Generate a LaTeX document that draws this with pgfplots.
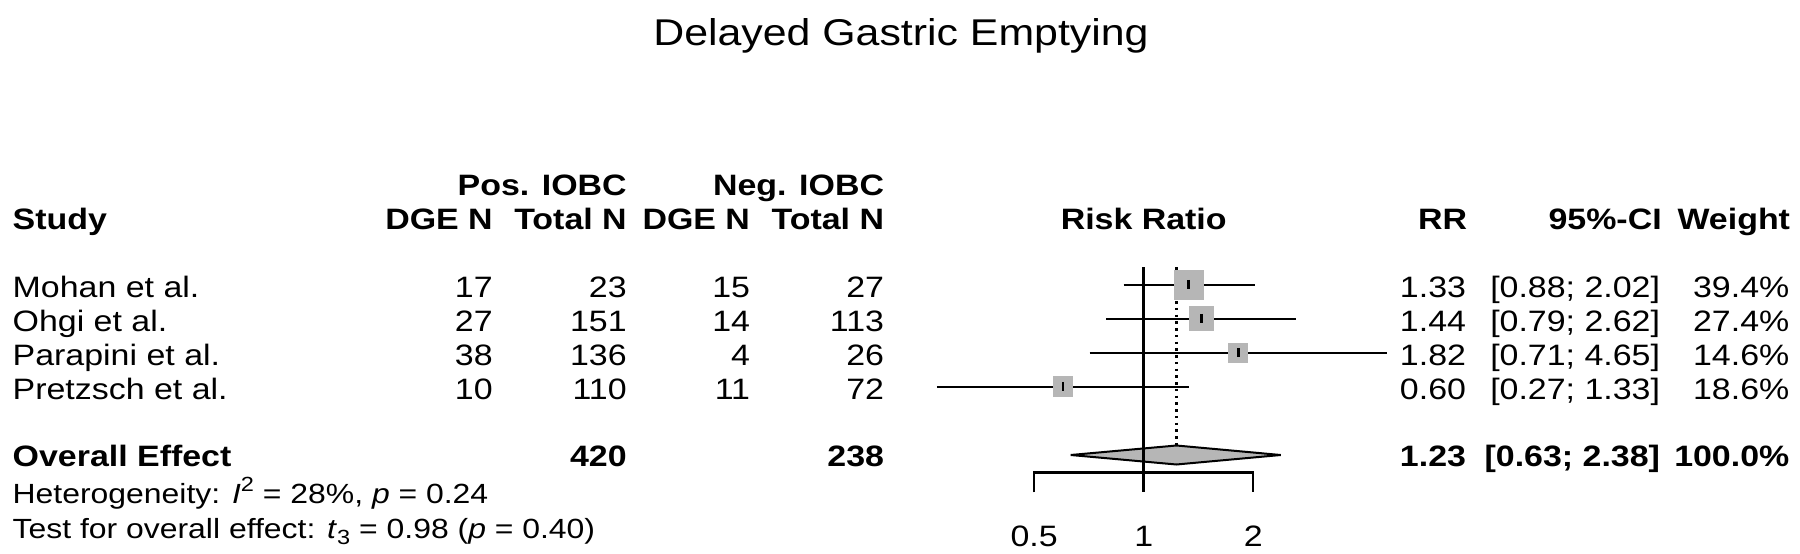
\documentclass[border=0pt]{standalone}
\usepackage{pgfplots}
\pgfplotsset{compat=1.18}
\usepackage{pgfplotstable}
\usepackage{fontspec}
\setmainfont{Liberation Sans}[FakeStretch=1.15]
\definecolor{sqgray}{RGB}{182,182,182}
\newcommand\bodyfont{\fontsize{11.8bp}{14bp}\selectfont}
\newcommand\hetfont{\fontsize{11.1bp}{13bp}\selectfont}
\newcommand\scrfont{\fontsize{8.2bp}{9bp}\selectfont}
\newcommand\titlefont{\fontsize{14.9bp}{17bp}\selectfont}
\tikzset{tx/.style={inner sep=0pt, outer sep=0pt, font=\bodyfont}}

\pgfplotstableread{
est  lo   hi   y     h
1.33 0.88 2.02 284.7 5.82
1.44 0.79 2.62 318.7 4.88
1.82 0.71 4.65 352.7 3.80
0.60 0.27 1.33 386.7 4.00
}\studies

\begin{document}
\begin{tikzpicture}
\path[use as bounding box] (0,0) rectangle (720bp,221.6bp);
% ---------- text canvas (pixel coordinates) ----------
\begin{axis}[at={(0,0)}, anchor=south west, width=720bp, height=221.6bp,
  scale only axis, hide axis, clip=false,
  xmin=0, xmax=1800, ymin=0, ymax=554, y dir=reverse]
\node[tx, anchor=base, font=\titlefont] at (axis cs:901,46) {Delayed Gastric Emptying};
% headers
\node[tx, anchor=base east] at (axis cs:626.7,195.7) {\textbf{Pos. IOBC}};
\node[tx, anchor=base east] at (axis cs:884,195.7) {\textbf{Neg. IOBC}};
\node[tx, anchor=base west] at (axis cs:12.7,230) {\textbf{Study}};
\node[tx, anchor=base east] at (axis cs:492.7,230) {\textbf{DGE N}};
\node[tx, anchor=base east] at (axis cs:626.7,230) {\textbf{Total N}};
\node[tx, anchor=base east] at (axis cs:750,230) {\textbf{DGE N}};
\node[tx, anchor=base east] at (axis cs:884,230) {\textbf{Total N}};
\node[tx, anchor=base] at (axis cs:1143.7,230) {\textbf{Risk Ratio}};
\node[tx, anchor=base east] at (axis cs:1467,230) {\textbf{RR}};
\node[tx, anchor=base east] at (axis cs:1661.7,230) {\textbf{95\%-CI}};
\node[tx, anchor=base east] at (axis cs:1790,230) {\textbf{Weight}};
% rows
\node[tx, anchor=base west] at (axis cs:12.7,297.7) {Mohan et al.};
\node[tx, anchor=base east] at (axis cs:492.7,297.7) {17};
\node[tx, anchor=base east] at (axis cs:626.7,297.7) {23};
\node[tx, anchor=base east] at (axis cs:750,297.7) {15};
\node[tx, anchor=base east] at (axis cs:884,297.7) {27};
\node[tx, anchor=base east] at (axis cs:1466,297.7) {1.33};
\node[tx, anchor=base east] at (axis cs:1660,297.7) {[0.88; 2.02]};
\node[tx, anchor=base east] at (axis cs:1789.3,297.7) {39.4\%};
\node[tx, anchor=base west] at (axis cs:12.7,331.6) {Ohgi et al.};
\node[tx, anchor=base east] at (axis cs:492.7,331.6) {27};
\node[tx, anchor=base east] at (axis cs:626.7,331.6) {151};
\node[tx, anchor=base east] at (axis cs:750,331.6) {14};
\node[tx, anchor=base east] at (axis cs:884,331.6) {113};
\node[tx, anchor=base east] at (axis cs:1466,331.6) {1.44};
\node[tx, anchor=base east] at (axis cs:1660,331.6) {[0.79; 2.62]};
\node[tx, anchor=base east] at (axis cs:1789.3,331.6) {27.4\%};
\node[tx, anchor=base west] at (axis cs:12.7,365.5) {Parapini et al.};
\node[tx, anchor=base east] at (axis cs:492.7,365.5) {38};
\node[tx, anchor=base east] at (axis cs:626.7,365.5) {136};
\node[tx, anchor=base east] at (axis cs:750,365.5) {4};
\node[tx, anchor=base east] at (axis cs:884,365.5) {26};
\node[tx, anchor=base east] at (axis cs:1466,365.5) {1.82};
\node[tx, anchor=base east] at (axis cs:1660,365.5) {[0.71; 4.65]};
\node[tx, anchor=base east] at (axis cs:1789.3,365.5) {14.6\%};
\node[tx, anchor=base west] at (axis cs:12.7,399.4) {Pretzsch et al.};
\node[tx, anchor=base east] at (axis cs:492.7,399.4) {10};
\node[tx, anchor=base east] at (axis cs:626.7,399.4) {110};
\node[tx, anchor=base east] at (axis cs:750,399.4) {11};
\node[tx, anchor=base east] at (axis cs:884,399.4) {72};
\node[tx, anchor=base east] at (axis cs:1466,399.4) {0.60};
\node[tx, anchor=base east] at (axis cs:1660,399.4) {[0.27; 1.33]};
\node[tx, anchor=base east] at (axis cs:1789.3,399.4) {18.6\%};
% overall
\node[tx, anchor=base west] at (axis cs:12.7,466.7) {\textbf{Overall Effect}};
\node[tx, anchor=base east] at (axis cs:626.7,466.7) {\textbf{420}};
\node[tx, anchor=base east] at (axis cs:884,466.7) {\textbf{238}};
\node[tx, anchor=base east] at (axis cs:1466,466.7) {\textbf{1.23}};
\node[tx, anchor=base east] at (axis cs:1660,466.7) {\textbf{[0.63; 2.38]}};
\node[tx, anchor=base east] at (axis cs:1789.3,466.7) {\textbf{100.0\%}};
\node[tx, anchor=base west, font=\hetfont] at (axis cs:12.7,503.3) {Heterogeneity: \textit{I}\raisebox{0.8ex}{\scrfont 2} = 28\%, \textit{p} = 0.24};
\node[tx, anchor=base west, font=\hetfont] at (axis cs:12.7,538.3) {Test for overall effect: \textit{t}\raisebox{-0.45ex}{\scrfont 3} = 0.98 (\textit{p} = 0.40)};
\end{axis}
% ---------- forest plot (log axis, same box) ----------
\begin{axis}[at={(0,0)}, anchor=south west, width=720bp, height=221.6bp,
  scale only axis, hide axis, clip=false,
  xmode=log, xmin=7.1755e-4, xmax=63.716, ymin=0, ymax=554, y dir=reverse]
% random effects estimate (dotted)
\addplot[black, line width=1bp, dash pattern=on 1bp off 1.7bp] coordinates {(1.23,267.3) (1.23,445.5)};
% squares
\addplot[scatter, only marks, mark=square*,
  scatter/use mapped color={draw=sqgray, fill=sqgray},
  mark options={line width=0pt},
  visualization depends on={\thisrow{h} \as \msize},
  scatter/@pre marker code/.append style={/tikz/mark size=\msize}]
  table[x=est, y=y] {\studies};
% confidence intervals
\addplot[black, line width=0.8bp] coordinates {(0.88,284.7) (2.02,284.7)};
\addplot[black, line width=0.8bp] coordinates {(0.79,318.7) (2.62,318.7)};
\addplot[black, line width=0.8bp] coordinates {(0.71,352.7) (4.65,352.7)};
\addplot[black, line width=0.8bp] coordinates {(0.27,386.7) (1.33,386.7)};
% point estimates
\addplot[only marks, mark=|, mark size=1.9pt, mark options={black, line width=1.1bp}] table[x=est, y=y] {\studies};
% diamond
\addplot[fill=sqgray, draw=black, line width=0.8bp] coordinates {(0.63,455) (1.23,445.5) (2.38,455) (1.23,464.5)} -- cycle;
% reference line and x axis
\addplot[black, line width=1bp] coordinates {(1,267.3) (1,492.3)};
\addplot[black, line width=1bp] coordinates {(0.5,492.3) (0.5,472.3) (2,472.3) (2,492.3)};
\node[tx, anchor=base] at (axis cs:0.5,546.7) {0.5};
\node[tx, anchor=base] at (axis cs:1,546.7) {1};
\node[tx, anchor=base] at (axis cs:2,546.7) {2};
\end{axis}
\end{tikzpicture}
\end{document}
